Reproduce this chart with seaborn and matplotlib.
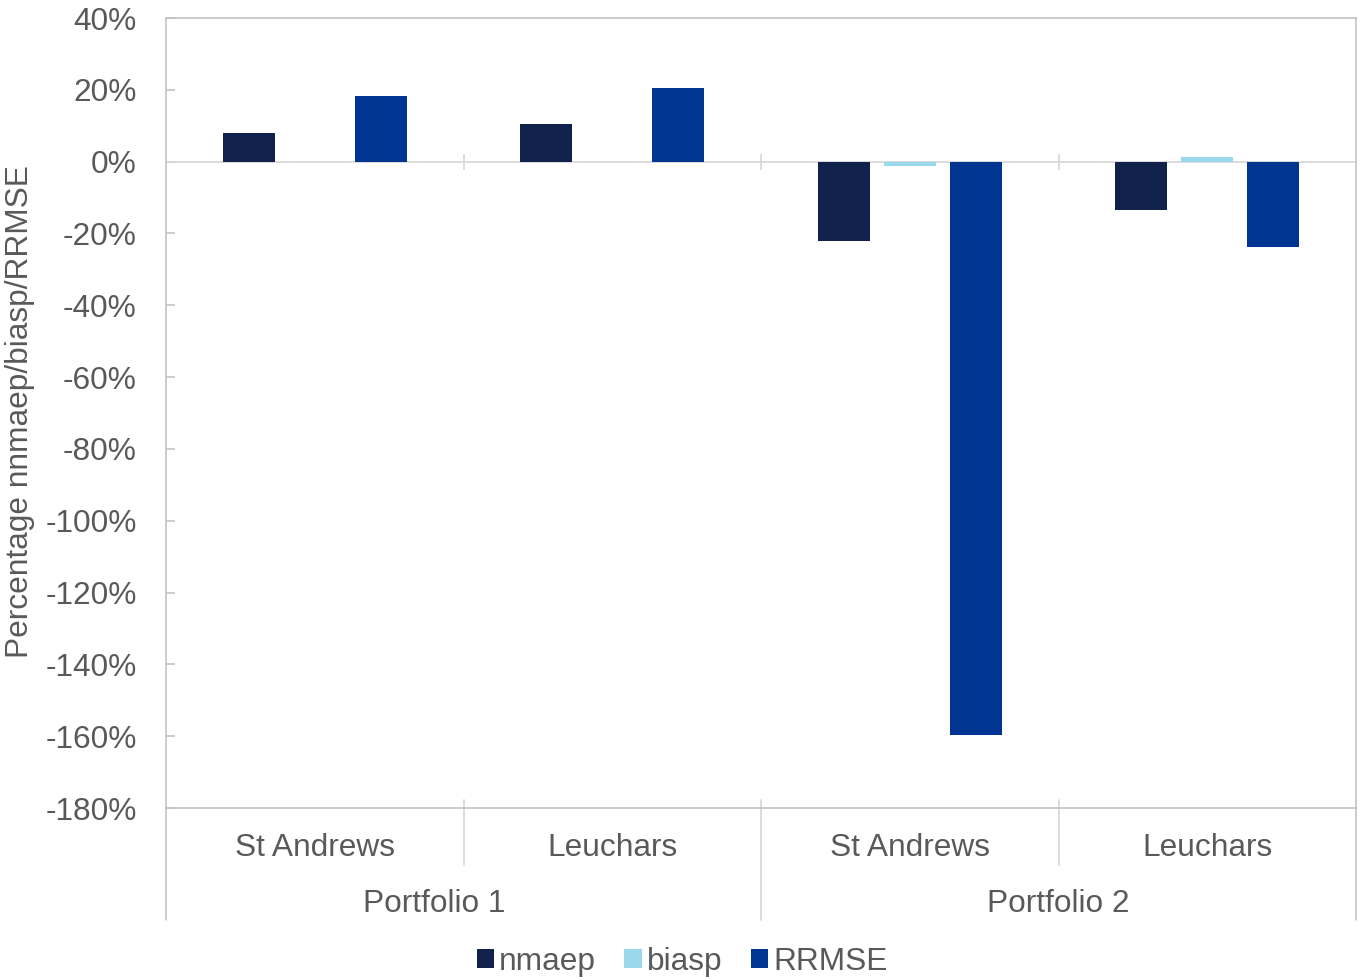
import matplotlib
matplotlib.use("Agg")
import matplotlib.pyplot as plt
from matplotlib.patches import Patch
import seaborn as sns
import pandas as pd

# ---- data ----
portfolios = ["Portfolio 1", "Portfolio 1", "Portfolio 2", "Portfolio 2"]
sites = ["St Andrews", "Leuchars", "St Andrews", "Leuchars"]
series = ["nmaep", "biasp", "RRMSE"]
nmaep = [0.081, 0.106, -0.220, -0.134]
biasp = [0.0, 0.0, -0.013, 0.014]
rrmse = [0.184, 0.206, -1.597, -0.239]
yticks = [0.4, 0.2, 0.0, -0.2, -0.4, -0.6, -0.8, -1.0, -1.2, -1.4, -1.6, -1.8]
colors = ["#10214b", "#9ad8ec", "#003591"]

cat_ids = [f"{p}|{s}" for p, s in zip(portfolios, sites)]
rows = []
for i, c in enumerate(cat_ids):
    for name, vals in zip(series, [nmaep, biasp, rrmse]):
        rows.append({"cat": c, "series": name, "value": vals[i]})
df = pd.DataFrame(rows)

sns.set_theme(style="white")
plt.rcParams["font.family"] = ["Liberation Sans", "DejaVu Sans"]
TXT = "#595959"
GRID = "#bfbfbf"
FS = 22.8

fig = plt.figure(figsize=(13.6, 9.8), dpi=100)
ax = fig.add_axes([166/1360, 1-808/980, (1356-166)/1360, (808-18)/980])

sns.barplot(data=df, x="cat", y="value", hue="series", order=cat_ids,
            hue_order=series, palette=colors, width=0.664, gap=0.21,
            linewidth=0, saturation=1, legend=False, ax=ax, zorder=3)

ax.set_xlim(-0.5, 3.5)
ax.set_ylim(-1.8, 0.4)
ax.set_yticks(yticks)
ax.set_yticklabels([f"{int(round(t*100))}%" for t in yticks])
ax.tick_params(axis="y", direction="in", length=6.5, width=1.1, color=GRID,
               labelsize=FS, labelcolor=TXT, pad=21, left=True)
ax.set_xticks([])
ax.set_xlabel("")
ax.set_ylabel("")
for sp in ax.spines.values():
    sp.set_visible(True)
    sp.set_color(GRID)
    sp.set_linewidth(1.1)

# zero (category) axis line with boundary ticks
ax.axhline(0, color="#d9d9d9", lw=1.3, zorder=2)
ax.vlines([0.5, 1.5, 2.5], -0.022, 0.022, color="#d9d9d9", lw=1.3, zorder=2)

# multi-level category labels below plot
tr = ax.get_xaxis_transform()
y_in = -57/790   # end of inner separators
y_out = -112/790  # end of outer separators
for x in [0.5, 2.5]:
    ax.plot([x, x], [0.01, y_in], transform=tr, color="#d9d9d9", lw=1.3, clip_on=False)
ax.plot([1.5, 1.5], [0.01, y_out], transform=tr, color="#d9d9d9", lw=1.3, clip_on=False)
for x in [-0.5, 3.5]:
    ax.plot([x, x], [0, y_out], transform=tr, color=GRID, lw=1.1, clip_on=False)

for i, s in enumerate(sites):
    ax.text(i, -40/790, s, transform=tr, ha="center", va="center",
            fontsize=FS, color=TXT)
group_pos = {"Portfolio 1": 0.4, "Portfolio 2": 2.5}
for p, x in group_pos.items():
    ax.text(x, -96/790, p, transform=tr, ha="center", va="center",
            fontsize=FS, color=TXT)

fig.text(20/1360, 1-412/980, "Percentage nnmaep/biasp/RRMSE", rotation=90,
         ha="center", va="center", fontsize=FS, color=TXT)

handles = [Patch(facecolor=c, edgecolor="none", label=n) for c, n in zip(colors, series)]
leg = fig.legend(handles=handles, loc="center", bbox_to_anchor=(682/1360, 1-962/980),
                 ncol=3, frameon=False, fontsize=FS, handlelength=0.55,
                 handleheight=0.55, handletextpad=0.15, columnspacing=0.9)
for t in leg.get_texts():
    t.set_color(TXT)

fig.savefig("out.png", dpi=100)
